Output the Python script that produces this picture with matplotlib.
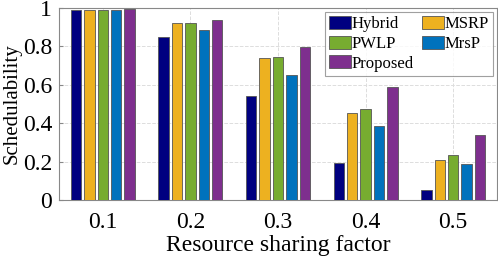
import numpy as np
import matplotlib
matplotlib.use("Agg")
import matplotlib.pyplot as plt

plt.rcParams['font.family'] = ['Liberation Serif', 'DejaVu Serif']

factors = ['0.1', '0.2', '0.3', '0.4', '0.5']
series = ['Hybrid', 'MSRP', 'PWLP', 'MrsP', 'Proposed']
hybrid = [0.988, 0.848, 0.541, 0.195, 0.051]
msrp = [0.991, 0.923, 0.738, 0.454, 0.209]
pwlp = [0.991, 0.923, 0.743, 0.473, 0.236]
mrsp = [0.988, 0.885, 0.653, 0.384, 0.190]
proposed = [0.993, 0.935, 0.799, 0.586, 0.337]
colors = ['#000080', '#EDB120', '#77AC30', '#0072BD', '#7E2F8E']

values = [hybrid, msrp, pwlp, mrsp, proposed]

fig = plt.figure(figsize=(4.98, 2.59), dpi=100)
ax = fig.add_axes([59 / 498, 1 - 200 / 259, 438 / 498, 192 / 259])

x = np.arange(1, len(factors) + 1)
step = 0.153
width = 0.12
bars = []
for k, (name, vals, c) in enumerate(zip(series, values, colors)):
    b = ax.bar(x + (k - 2) * step, vals, width, color=c, edgecolor='#555555',
               linewidth=0.6, label=name, zorder=3)
    bars.append(b)

ax.set_xlim(0.5, 5.5)
ax.set_ylim(0, 1)
ax.set_xticks(x)
ax.set_xticklabels(factors)
ax.set_yticks([0, 0.2, 0.4, 0.6, 0.8, 1])
ax.set_yticklabels(['0', '0.2', '0.4', '0.6', '0.8', '1'])
ax.tick_params(labelsize=17, direction='in', length=3, color='#888888')
ax.tick_params(axis='x', pad=9)
ax.tick_params(axis='y', pad=5)
ax.grid(True, linestyle='--', color='#dddddd', linewidth=0.7, zorder=0)
for s in ax.spines.values():
    s.set_color('#888888')
    s.set_linewidth(0.8)

ax.set_xlabel('Resource sharing factor', fontsize=17, labelpad=1)
ax.set_ylabel('Schedulability', fontsize=15, labelpad=1)

# matplotlib fills legend column-wise; reorder so rows read like the original
order = [0, 2, 4, 1, 3]
leg = ax.legend([bars[i] for i in order], [series[i] for i in order],
                ncol=2, loc='upper right', fontsize=12, frameon=True,
                fancybox=False, edgecolor='#888888', handlelength=1.3,
                handleheight=0.8, handletextpad=0.05, columnspacing=0.5,
                labelspacing=0.2, borderpad=0.25, borderaxespad=0.25)
leg.get_frame().set_linewidth(0.8)

fig.savefig('out.png', dpi=100)
